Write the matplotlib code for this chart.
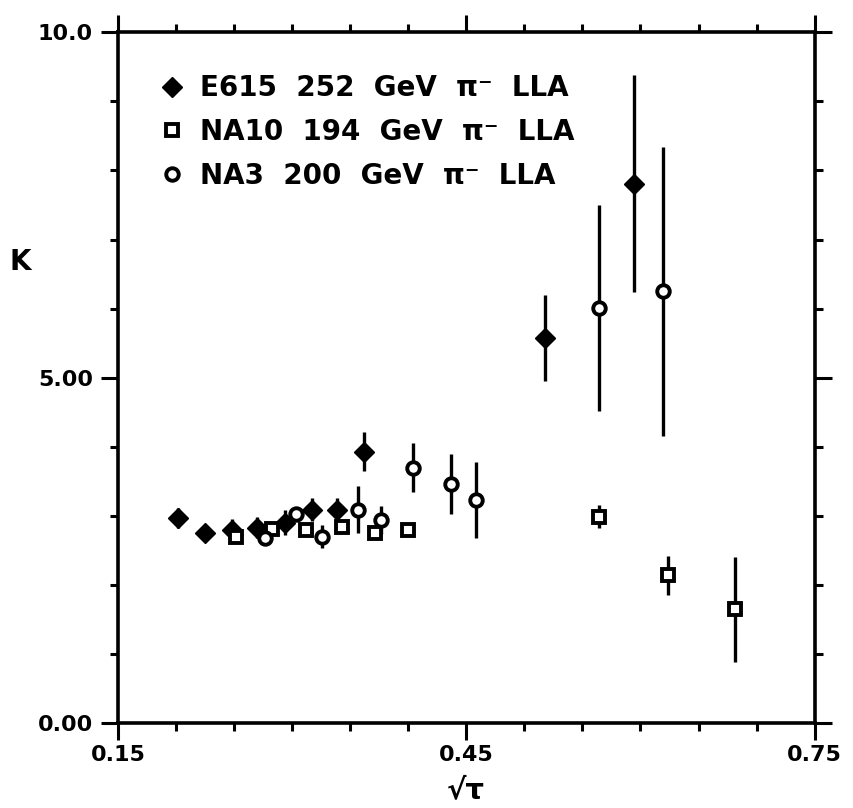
import matplotlib
matplotlib.use("Agg")
import numpy as np
import matplotlib.pyplot as plt
from matplotlib.ticker import MultipleLocator, FixedLocator

# K factor vs sqrt(tau), leading-log comparison for pion beams
e615_x = [0.202, 0.225, 0.248, 0.270, 0.294, 0.317, 0.339, 0.362, 0.518, 0.594]
e615_k = [2.97, 2.75, 2.80, 2.83, 2.90, 3.09, 3.09, 3.93, 5.58, 7.81]
e615_err = [0.15, 0.12, 0.15, 0.15, 0.18, 0.17, 0.17, 0.28, 0.62, 1.57]

na10_x = [0.252, 0.283, 0.312, 0.343, 0.371, 0.400, 0.564, 0.624, 0.681]
na10_k = [2.70, 2.81, 2.80, 2.84, 2.75, 2.80, 2.99, 2.14, 1.65]
na10_err = [0.08, 0.08, 0.08, 0.08, 0.08, 0.08, 0.17, 0.28, 0.76]

na3_x = [0.277, 0.303, 0.326, 0.357, 0.377, 0.404, 0.437, 0.458, 0.564, 0.619]
na3_k = [2.68, 3.03, 2.70, 3.09, 2.94, 3.70, 3.46, 3.23, 6.01, 6.25]
na3_err = [0.10, 0.10, 0.17, 0.34, 0.20, 0.35, 0.43, 0.55, 1.49, 2.09]

labels = ["E615  252  GeV  π⁻  LLA",
          "NA10  194  GeV  π⁻  LLA",
          "NA3  200  GeV  π⁻  LLA"]

x_ticks = [0.15, 0.45, 0.75]
x_ticklabels = ["0.15", "0.45", "0.75"]
y_ticks = [0, 5, 10]
y_ticklabels = ["0.00", "5.00", "10.0"]

plt.rcParams['font.weight'] = 'bold'

fig = plt.figure(figsize=(8.54, 8.08), dpi=100)
ax = fig.add_axes([0.138, 0.105, 0.816, 0.855])

lw = 2.4
for xs, ks, es in [(e615_x, e615_k, e615_err), (na10_x, na10_k, na10_err), (na3_x, na3_k, na3_err)]:
    ax.errorbar(xs, ks, yerr=es, fmt='none', ecolor='k', elinewidth=lw, capsize=0)

ax.plot(e615_x, e615_k, 'D', ms=10.5, mfc='k', mec='k', ls='none', label=labels[0])
ax.plot(na10_x, na10_k, 's', ms=8.5, mfc='w', mec='k', mew=2.8, ls='none', label=labels[1])
ax.plot(na3_x, na3_k, 'o', ms=9, mfc='w', mec='k', mew=2.8, ls='none', label=labels[2])

ax.set_xlim(0.15, 0.75)
ax.set_ylim(0, 10)
ax.xaxis.set_major_locator(FixedLocator(x_ticks))
ax.xaxis.set_minor_locator(MultipleLocator(0.05))
ax.yaxis.set_major_locator(FixedLocator(y_ticks))
ax.yaxis.set_minor_locator(MultipleLocator(1.0))
ax.set_xticklabels(x_ticklabels, fontweight='bold')
ax.set_yticklabels(y_ticklabels, fontweight='bold')

ax.tick_params(which='both', direction='out', top=True, right=True, width=2.2, labelsize=16)
ax.tick_params(which='major', length=12, pad=6)
ax.tick_params(which='minor', length=6)
ax.tick_params(axis='x', pad=4)
for sp in ax.spines.values():
    sp.set_linewidth(2.6)

ax.set_ylabel("K", fontsize=20, rotation=0, va='center', fontweight='bold')
ax.yaxis.set_label_coords(-0.14, 0.668)
ax.set_xlabel("√τ", fontsize=21, labelpad=8, fontweight='bold')

ax.legend(loc='upper left', bbox_to_anchor=(0.062, 0.939), frameon=False,
          prop={'size': 20, 'weight': 'bold'}, handlelength=0.8,
          handletextpad=0.6, labelspacing=0.56, borderaxespad=0, borderpad=0)

fig.savefig("out.png", dpi=100)
